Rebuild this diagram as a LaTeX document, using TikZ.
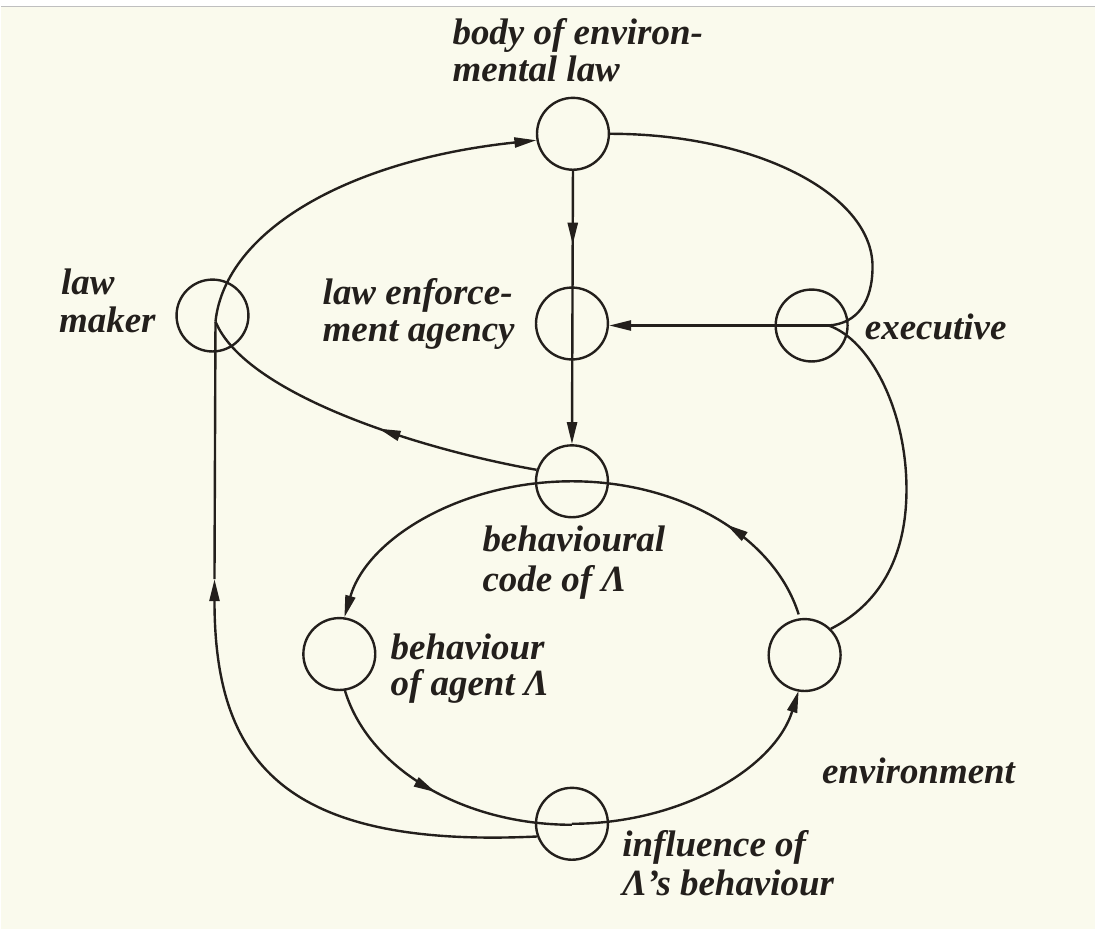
\documentclass[tikz,border=0pt]{standalone}
\usepackage{fontspec}
\setmainfont{Liberation Serif}
\usetikzlibrary{arrows.meta,decorations.markings,calc}
\definecolor{paper}{RGB}{250,250,237}
\definecolor{ink}{RGB}{35,31,28}
\begin{document}
\begin{tikzpicture}[x=0.5pt,y=0.5pt,
  state/.style={circle,draw=ink,line width=1.2pt,minimum size=36pt,inner sep=0pt},
  conn/.style={draw=ink,line width=1.2pt},
  tip/.style={-{Triangle[length=11pt,width=5pt]}},
  midarrow/.style={postaction={decorate},decoration={markings,mark=at position #1 with {\arrow{Triangle[length=11pt,width=5pt]}}}},
  lbl/.style={anchor=base west,inner sep=0pt,text=ink,font=\fontsize{18.5}{18.5}\selectfont\bfseries\itshape}]
% background
\fill[paper] (0,0) rectangle (1096,930);
\fill[white] (0,924) rectangle (1096,930);
\draw[black!25,line width=0.8pt] (0,923.5) -- (1096,923.5);
\useasboundingbox (0,0) rectangle (1096,930);
% nodes
\node[state] (body) at (573,796) {};
\node[state] (enf) at (572,606) {};
\node[state] (exe) at (812,604) {};
\node[state] (maker) at (212,614) {};
\node[state] (code) at (572,448) {};
\node[state] (agent) at (339,275) {};
\node[state] (env) at (805,274) {};
\node[state] (infl) at (572,105) {};
% junctions
\coordinate (P) at (829,604);
\coordinate (M) at (215,608);
\coordinate (L) at (214,350);
\coordinate (ellC) at (572,276);
\coordinate (agS) at ($(ellC)+(192:116.5pt and 86pt)$);
\coordinate (envN) at ($(ellC)+(13:116.5pt and 86pt)$);
% connectors
\draw[conn,tip,midarrow=0.27] (body.south) -- (code.north);
\draw[conn,tip] (P) -- (P -| enf.east);
\draw[conn] (body.east) .. controls (755,796) and (873,736) .. (873,663) .. controls (873,628) and (858,606) .. (P);
\draw[conn] (P) .. controls (870,590) and (907,520) .. (907,440) .. controls (907,360) and (870,320) .. (env.45);
\draw[conn,midarrow=0.45] (code.162) .. controls (420,480) and (245,535) .. (M);
\draw[conn,tip] (infl.200) .. controls (280,80) and (214,170) .. (L);
\draw[conn] (L) -- (M);
\draw[conn,tip] (M) .. controls (225,700) and (350,770) .. (body.190);
\draw[conn,tip] (code.center) arc[start angle=90,end angle=168,x radius=116.5pt,y radius=86pt];
\draw[conn,midarrow=0.5] (agS) arc[start angle=192,end angle=270,x radius=116.5pt,y radius=86pt];
\draw[conn,tip] (infl.center) arc[start angle=270,end angle=347,x radius=116.5pt,y radius=86pt];
\draw[conn,midarrow=0.42] (envN) arc[start angle=13,end angle=90,x radius=116.5pt,y radius=86pt];
% labels
\node[lbl] (tBody1) at (452,885) {body of environ-};
\node[lbl] (tBody2) at (452,848) {mental law};
\node[lbl] (tMaker1) at (60,635) {law};
\node[lbl] (tMaker2) at (58,597) {maker};
\node[lbl] (tEnf1) at (322,625) {law enforce-};
\node[lbl] (tEnf2) at (322,588) {ment agency};
\node[lbl] (tExe) at (865,590) {executive};
\node[lbl] (tCode1) at (482,378) {behavioural};
\node[lbl] (tCode2) at (482,338) {code of Λ};
\node[lbl] (tAgent1) at (390,270) {behaviour};
\node[lbl] (tAgent2) at (390,233) {of agent Λ};
\node[lbl] (tEnv) at (822,145) {environment};
\node[lbl] (tInfl1) at (622,72) {influence of};
\node[lbl] (tInfl2) at (622,33) {Λ's behaviour};
\end{tikzpicture}
\end{document}
